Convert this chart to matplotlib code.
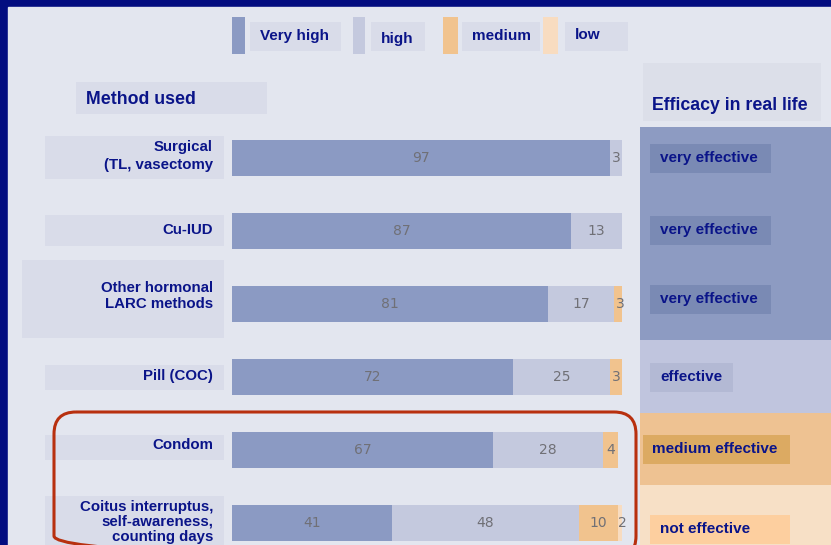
import matplotlib.pyplot as plt
import numpy as np
from matplotlib.patches import FancyBboxPatch, Rectangle

# data
methods = [
    "Surgical\n(TL, vasectomy",
    "Cu-IUD",
    "Other hormonal\nLARC methods",
    "Pill (COC)",
    "Condom",
    "Coitus interruptus,\nself-awareness,\ncounting days",
]
very_high = [97, 87, 81, 72, 67, 41]
high = [3, 13, 17, 25, 28, 48]
medium = [0, 0, 3, 3, 4, 10]
low = [0, 0, 0, 0, 0, 2]
level_names = ["Very high", "high", "medium", "low"]
efficacy = ["very effective", "very effective", "very effective",
            "effective", "medium effective", "not effective"]

NAVY = "#0a1489"
BORDER = "#030d80"
PANEL = "#e3e6ef"
LABEL_BG = "#d9dce9"
seg_colors = ["#8b9ac3", "#c4c9de", "#f1c38e", "#f8dcc0"]
FONT = "Liberation Sans"

W, H = 831, 545
fig = plt.figure(figsize=(W / 100, H / 100), dpi=100)
fig.patch.set_facecolor(BORDER)

# overlay axes in pixel coordinates for the decoration
ov = fig.add_axes([0, 0, 1, 1])
ov.set_xlim(0, W)
ov.set_ylim(H, 0)
ov.axis("off")
ov.add_patch(Rectangle((8, 7), W - 8, H - 7, color=PANEL, zorder=0))


def box(x0, y0, x1, y1, color, z=1):
    ov.add_patch(Rectangle((x0, y0), x1 - x0, y1 - y0, color=color, lw=0, zorder=z))


# efficacy column on the right
box(640, 127, W, 340, "#8d9bc2")
box(640, 340, W, 413, "#c0c5de")
box(640, 413, W, 485, "#eec292")
box(640, 485, W, H, "#f7e0c6")
box(643, 63, 821, 121, "#dcdfe9")
ov.text(652, 106, "Efficacy in real life", color=NAVY, fontsize=12.8,
        fontweight="bold", family=FONT, va="center", ha="left")

eff_boxes = {
    "very effective": ("#7a8ab4", 650, 771),
    "effective": ("#b3b9d4", 650, 733),
    "medium effective": ("#dcaa62", 643, 790),
    "not effective": ("#fdcf9f", 650, 790),
}
eff_y = [158, 230, 299, 377, 449, 529]
for lab, yc in zip(efficacy, eff_y):
    c, x0, x1 = eff_boxes[lab]
    box(x0, yc - 14.5, x1, yc + 14.5, c, z=2)
    ov.text(x0 + 10 if x0 == 650 else x0 + 9, yc, lab, color=NAVY, fontsize=11,
            fontweight="bold", family=FONT, va="center", ha="left", zorder=3)

# method label boxes
box(76, 82, 267, 114, LABEL_BG)
ov.text(86, 99, "Method used", color=NAVY, fontsize=12.8, fontweight="bold",
        family=FONT, va="center", ha="left")
lab_boxes = [(45, 136, 224, 179), (45, 215, 224, 246), (22, 260, 224, 338),
             (45, 365, 224, 390), (45, 435, 224, 460), (45, 496, 224, H)]
lab_y = [156, 230, 296, 376, 445, 522]
lab_spacing = [1.3, 1.0, 1.15, 1.0, 1.0, 1.08]
for (x0, y0, x1, y1), yc, ls, m in zip(lab_boxes, lab_y, lab_spacing, methods):
    box(x0, y0, x1, y1, LABEL_BG)
    ov.text(213, yc, m, color=NAVY, fontsize=10.8, fontweight="bold",
            family=FONT, va="center", ha="right", linespacing=ls)

# legend
leg = [(232, 245, 250, 341), (353, 365, 371, 425), (443, 458, 462, 540), (543, 558, 565, 628)]
leg_ty = [36, 39, 36, 35]
for (s0, s1, b0, b1), name, c, ty in zip(leg, level_names, seg_colors, leg_ty):
    box(s0, 17, s1, 54, c)
    box(b0, 22, b1, 51, LABEL_BG)
    ov.text(b0 + 10, ty, name, color=NAVY, fontsize=11, fontweight="bold",
            family=FONT, va="center", ha="left")

# bar axes: 0-100 maps to x pixels 232-622, rows 73 px apart
row = 73
top = 158 - row / 2
ax = fig.add_axes([232 / W, 1 - (top + 6 * row) / H, 390 / W, 6 * row / H])
ax.patch.set_alpha(0)
ax.set_xlim(0, 100)
ax.set_ylim(5.5, -0.5)
ax.axis("off")

y = np.arange(len(methods))
left = np.zeros(len(methods))
for vals, c in zip([very_high, high, medium, low], seg_colors):
    vals = np.array(vals, dtype=float)
    ax.barh(y, vals, left=left, height=0.5, color=c, lw=0)
    for yi, l, v in zip(y, left, vals):
        if v > 0:
            ax.text(l + v / 2, yi, f"{v:g}", color="#707076", fontsize=10,
                    ha="center", va="center")
    left += vals

# red rounded frame around condom and coitus interruptus
ov.add_patch(FancyBboxPatch((54, 412), 582, 146, boxstyle="round,pad=0,rounding_size=22",
                            fill=False, ec="#b8300f", lw=2.2, zorder=5))

fig.savefig("out.png", dpi=100, facecolor=fig.get_facecolor())
